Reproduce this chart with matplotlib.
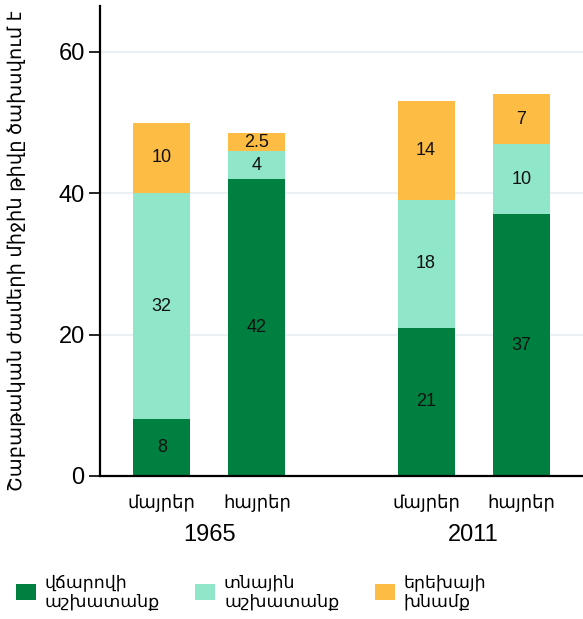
import matplotlib
matplotlib.use("Agg")
import matplotlib.pyplot as plt
from matplotlib.patches import Patch

plt.rcParams["font.family"] = ["Liberation Sans", "DejaVu Sans"]

# hours per week, stacked: paid work / housework / childcare
years = ["1965", "2011"]
groups = ["մայրեր", "հայրեր", "մայրեր", "հայրեր"]
paid_work = [8, 42, 21, 37]
house_work = [32, 4, 18, 10]
child_care = [10, 2.5, 14, 7]
paid_labels = ["8", "42", "21", "37"]
house_labels = ["32", "4", "18", "10"]
care_labels = ["10", "2.5", "14", "7"]

series = [
    ("վճարովի\nաշխատանք", paid_work, paid_labels, "#008040"),
    ("տնային\nաշխատանք", house_work, house_labels, "#8fe6c9"),
    ("երեխայի\nխնամք", child_care, care_labels, "#fdbd45"),
]

x = [0, 1, 2.78, 3.78]
width = 0.6

W, H = 583, 619
fig = plt.figure(figsize=(W / 100, H / 100), dpi=100)
ax = fig.add_axes([100 / W, 143 / H, 483 / W, 470 / H])

bottom = [0] * len(x)
for name, vals, labels, color in series:
    ax.bar(x, vals, width, bottom=bottom, color=color, label=name, zorder=2)
    for xi, b, v, lab in zip(x, bottom, vals, labels):
        ax.text(xi, b + v / 2, lab, ha="center", va="center",
                fontsize=13, color="#111111", zorder=3)
    bottom = [b + v for b, v in zip(bottom, vals)]

ax.set_xlim(-0.65, 4.43)
ax.set_ylim(0, 66.5)
ax.set_yticks([0, 20, 40, 60])
ax.yaxis.grid(True, color="#e6eef1", linewidth=1.2, zorder=0)
ax.tick_params(axis="y", labelsize=17, length=8, width=1.2, direction="out",
               pad=3)
ax.tick_params(axis="x", length=0, labelsize=13, pad=13)
ax.set_xticks(x)
ax.set_xticklabels(groups)

for side in ("top", "right"):
    ax.spines[side].set_visible(False)
for side in ("left", "bottom"):
    ax.spines[side].set_linewidth(1.6)

fig.text(17 / W, 1 - 251 / H, "Շաբաթական ժամերի միջին թիվը ծախսվում է",
         rotation=90, ha="center", va="center", fontsize=14)

# year labels under each pair of bars
for yr, pair in zip(years, [(x[0], x[1]), (x[2], x[3])]):
    ax.text(sum(pair) / 2, -0.125, yr, transform=ax.get_xaxis_transform(),
            ha="center", va="center", fontsize=17)

handles = [Patch(facecolor=c, label=n) for n, _, _, c in series]
fig.legend(handles=handles, loc="center left",
           bbox_to_anchor=(16 / W, 1 - 592 / H),
           ncol=3, frameon=False, fontsize=12.5, handlelength=1.15,
           handleheight=1.1, columnspacing=2.05, handletextpad=0.5,
           labelspacing=0.2, borderpad=0, borderaxespad=0)

fig.savefig("out.png", dpi=100)
